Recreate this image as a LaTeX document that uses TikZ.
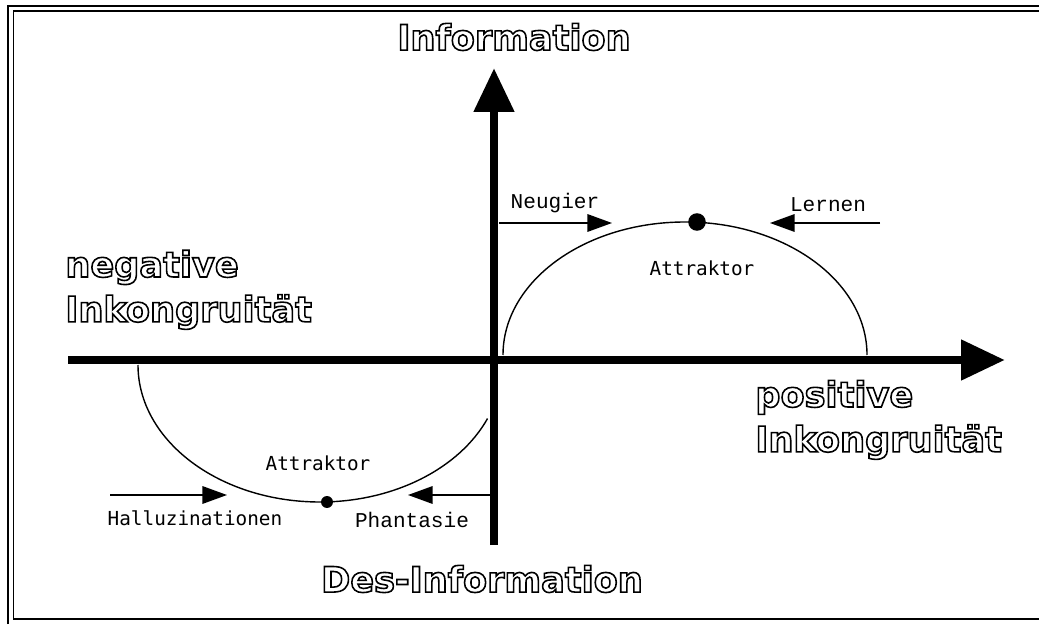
\documentclass[tikz,border=0pt]{standalone}
\usepackage{fontspec}
\usetikzlibrary{arrows.meta, positioning}
\newfontfamily\bigfont{DejaVu Sans}
\newfontfamily\typefont{Liberation Mono}
\newfontfamily\screenfont{DejaVu Sans Mono}
% hollow letters: stroke the glyph outlines only
\newcommand{\hollow}[1]{\special{pdf:literal direct 1 Tr 0.9 w}#1\special{pdf:literal direct 0 Tr}}
\tikzstyle{mainaxis} = [line width=5pt,-{Triangle[length=25pt,width=22pt]}]
\tikzstyle{flow} = [line width=0.8pt,-{Triangle[length=14pt,width=10pt]}]
\tikzstyle{orbit} = [line width=0.8pt]
\tikzstyle{edgeline} = [line width=1.1pt]
\tikzstyle{attr} = [circle,fill=black,inner sep=0pt]
\tikzstyle{big} = [inner sep=0pt,font=\bigfont\bfseries\fontsize{20}{24}\selectfont]
\tikzstyle{serif} = [inner sep=1pt,font=\typefont\fontsize{12}{14}\selectfont]
\tikzstyle{sans} = [inner sep=1pt,font=\screenfont\fontsize{11}{13}\selectfont]

\begin{document}
\begin{tikzpicture}[x=0.2mm,y=0.2mm]
    \useasboundingbox (0,0) rectangle (1039,624);
    % double frame
    \draw[edgeline] (8,0) -- (8,618) -- (1039,618);
    \draw[edgeline] (1039,613) -- (13.5,613) -- (13.5,5) -- (1039,5);

    % the two attractor curves
    \draw[orbit] (503,269) arc[start angle=180,end angle=0,x radius=36.4mm,y radius=26.6mm];
    \draw[orbit] (138,259) arc[start angle=180,end angle=337,x radius=36.4mm,y radius=27.4mm];
    \node[attr, minimum size=10pt] (topattr) at (697,402) {};
    \node[attr, minimum size=6.8pt] (lowattr) at (327,122) {};

    % axes
    \coordinate (xleft) at (68,264);
    \coordinate (xright) at (1005,264);
    \coordinate (ybottom) at (494,79);
    \coordinate (ytop) at (494,556);
    \draw[mainaxis] (xleft) -- (xright);
    \draw[mainaxis] (ybottom) -- (ytop);

    % flows towards the attractors
    \coordinate (neustart) at (499,401);
    \coordinate (neuend) at (612,401);
    \coordinate (lernstart) at (880,401);
    \coordinate (lernend) at (770,401);
    \coordinate (hallstart) at (110,129);
    \coordinate (hallend) at (227,129);
    \coordinate (phanstart) at (490,129);
    \coordinate (phanend) at (408,129);
    \draw[flow] (neustart) -- (neuend);
    \draw[flow] (lernstart) -- (lernend);
    \draw[flow] (hallstart) -- (hallend);
    \draw[flow] (phanstart) -- (phanend);

    \node[serif] (neugier) at (555,421) {Neugier};
    \node[serif] (lernen) at (828,419) {Lernen};
    \node[sans] (attrup) at (702,356) {Attraktor};
    \node[sans] (attrlow) at (318,161) {Attraktor};
    \node[sans] (halluz) at (195,106) {Halluzinationen};
    \node[serif] (phantasie) at (412,104) {Phantasie};

    % axis titles
    \node[big] (info) at (514,587) {\hollow{Information}};
    \node[big] (desinfo) at (482,45) {\hollow{Des-Information}};
    \node[big, anchor=base west] (neg) at (65,347) {\hollow{negative}};
    \node[big, below=25.5pt of neg.base west, anchor=base west] (negink) {\hollow{Inkongruität}};
    \node[big, anchor=base west] (pos) at (755,217) {\hollow{positive}};
    \node[big, below=25.5pt of pos.base west, anchor=base west] (posink) {\hollow{Inkongruität}};
\end{tikzpicture}
\end{document}
